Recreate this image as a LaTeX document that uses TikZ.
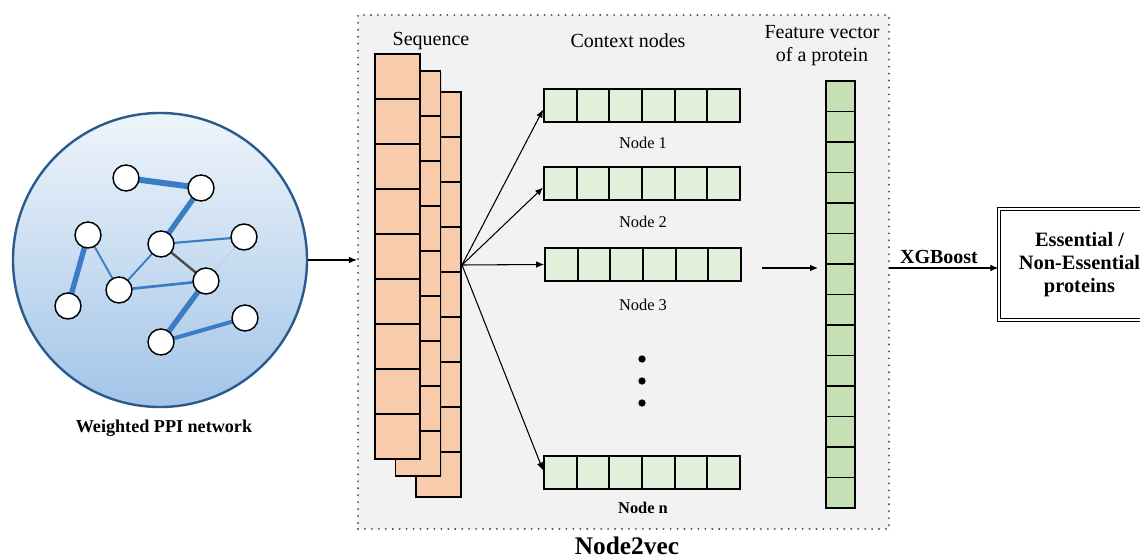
\documentclass[tikz,border=0pt]{standalone}
\usepackage{fontspec}
\setmainfont{Liberation Serif}
\usetikzlibrary{arrows.meta,shadows}
\definecolor{peach}{HTML}{F8CBAD}
\definecolor{lgreen}{HTML}{E2EFDA}
\definecolor{mgreen}{HTML}{C5E0B4}
\definecolor{edgeblue}{HTML}{3A7DC4}
\definecolor{circborder}{HTML}{2B5A8C}
\definecolor{boxgray}{HTML}{F2F2F2}
\definecolor{circtop}{HTML}{EEF4FB}
\definecolor{circbot}{HTML}{A3C5E8}
\begin{document}
\begin{tikzpicture}[x=0.75pt,y=-0.75pt,
  arr/.style={-{Latex[length=6pt,width=5pt]}, line width=0.8pt},
  shad/.style={drop shadow={shadow xshift=1pt, shadow yshift=-1pt, opacity=0.25}},
  seqcol/.style={draw, line width=1.3pt, fill=peach, inner sep=0, minimum width=33.75pt, minimum height=303.75pt, shad},
  rowbox/.style={draw, line width=1.3pt, fill=lgreen, inner sep=0, minimum width=147pt, minimum height=24.75pt, shad},
  featbox/.style={draw, line width=1.3pt, fill=mgreen, inner sep=0, minimum width=21.75pt, minimum height=320.25pt, shad},
  cellline/.style={line width=1.3pt},
  pnode/.style={circle, draw, fill=white, line width=1.1pt, minimum size=19.5pt, inner sep=0},
  nlbl/.style={font=\fontsize{12.3}{14}\selectfont},
  hdr/.style={font=\fontsize{15}{17.25}\selectfont, align=center},
  bedge/.style={draw=edgeblue, line cap=round},
  dotb/.style={circle, fill=black, inner sep=0, minimum size=5.5pt}
]
\clip (0,0) rectangle (1140,559);
\useasboundingbox (0,0) rectangle (1140,559);

% ---------- PPI network ----------
\node[circle, draw=circborder, line width=1.8pt, top color=circtop, bottom color=circbot,
      minimum size=220.5pt, inner sep=0] (ppi) at (160,260) {};
\coordinate (a) at (126,178);
\coordinate (b) at (201,188);
\coordinate (c) at (88,235);
\coordinate (d) at (161,244);
\coordinate (e) at (244,237);
\coordinate (f) at (68,306);
\coordinate (g) at (119,290);
\coordinate (h) at (206,281);
\coordinate (i) at (245,318);
\coordinate (j) at (161,342);
\draw[bedge, line width=4.5pt] (a) -- (b);
\draw[bedge, line width=4pt] (b) -- (d);
\draw[bedge, line width=4pt] (c) -- (f);
\draw[bedge, line width=1.4pt] (c) -- (g);
\draw[bedge, line width=1.6pt] (d) -- (e);
\draw[bedge, line width=1.4pt] (d) -- (g);
\draw[draw=black!70, line width=1.8pt] (d) -- (h);
\draw[draw=edgeblue!40, line width=0.4pt] (h) -- (e);
\draw[bedge, line width=2pt] (g) -- (h);
\draw[bedge, line width=4pt] (h) -- (j);
\draw[bedge, line width=3pt] (j) -- (i);
\foreach \p in {a,b,c,d,e,f,g,h,i,j} \node[pnode] (n\p) at (\p) {};
\node[font=\bfseries\fontsize{13.6}{16}\selectfont] (ppilbl) at (164,428) {Weighted PPI network};

% ---------- Node2vec box ----------
\node[draw=black!70, fill=boxgray, line width=1.6pt, dash pattern=on 0.01pt off 5.2pt, line cap=round,
      minimum width=398.25pt, minimum height=385.5pt, inner sep=0] (n2v) at (623.5,272) {};
\node[font=\bfseries\fontsize{19}{22}\selectfont] (n2vlbl) at (627,546) {Node2vec};

\draw[arr] (ppi.east) -- (n2v.west |- ppi.east);

% sequence stacks
\node[seqcol] (sC) at (438.5,294.5) {};
\foreach \k in {1,...,8} \draw[cellline] (416,{92+45*\k}) -- ++(45,0);
\node[seqcol] (sB) at (418,273.5) {};
\foreach \k in {1,...,8} \draw[cellline] (395.5,{71+45*\k}) -- ++(45,0);
\node[seqcol] (sA) at (397.5,256.5) {};
\foreach \k in {1,...,8} \draw[cellline] (375,{54+45*\k}) -- ++(45,0);
\node[hdr] (seqlbl) at (431,41) {Sequence};

% context rows
\node[hdr] (ctxlbl) at (628,41) {Context nodes};
\node[rowbox] (row1) at (642,105.5) {};
\node[rowbox] (row2) at (642,183.5) {};
\node[rowbox] (row3) at (643,264.5) {};
\node[rowbox] (rown) at (642,472.5) {};
\foreach \xx/\yy in {544/89, 544/167, 545/248, 544/456}
  \foreach \k in {1,...,5} \draw[cellline] ({\xx+32.67*\k},\yy) -- ++(0,33);
\node[nlbl] (l1) at (643,143) {Node 1};
\node[nlbl] (l2) at (643,222) {Node 2};
\node[nlbl] (l3) at (643,305) {Node 3};
\node[nlbl, font=\bfseries\fontsize{12.3}{14}\selectfont] (ln) at (643,508) {Node n};
\node[dotb] (d1) at (642,359) {};
\node[dotb] (d2) at (642,381) {};
\node[dotb] (d3) at (642,403) {};

\coordinate (src) at (462,265);
\draw[arr] (src) -- ([yshift=-3pt]row1.west);
\draw[arr] (src) -- ([yshift=-3pt]row2.west);
\draw[arr] (src) -- (row3.west);
\draw[arr] (src) -- ([yshift=1.5pt]rown.west);

% feature vector
\node[hdr] (featlbl) at (822,46) {Feature vector\\of a protein};
\node[featbox] (feat) at (840.5,294.5) {};
\foreach \k in {1,...,13} \draw[cellline] (826,{81+30.5*\k}) -- ++(29,0);
\coordinate (fs) at (762,268);
\coordinate (fe) at (818,268);
\draw[arr] (fs) -- (fe);

% result
\node[draw=black, double=white, double distance=0.8pt, line width=0.9pt, inner sep=0,
      minimum width=120.75pt, minimum height=83.25pt, align=center,
      font=\bfseries\fontsize{15.3}{17.25}\selectfont] (res) at (1079.5,264.5)
      {Essential /\\Non-Essential\\proteins};
\coordinate (xs) at (889,268);
\draw[arr] (xs) -- (res.west |- xs);
\node[font=\bfseries\fontsize{15}{18}\selectfont] (xgb) at (939,257) {XGBoost};
\end{tikzpicture}
\end{document}
